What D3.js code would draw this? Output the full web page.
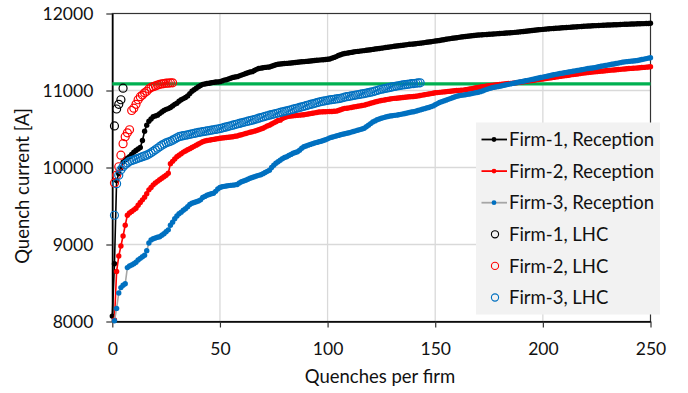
<!DOCTYPE html>
<html>
<head>
<meta charset="utf-8">
<script src="https://cdn.jsdelivr.net/npm/d3@7"></script>
<style>
  body { margin: 0; background: #fff; }
  svg { display: block; font-family: Lato, "Open Sans", sans-serif; }
</style>
</head>
<body>
<div id="chart"></div>
<script>
// quench currents [A], sorted, one value per quench (index = quench number)
var firm1Rec = [8070, 8750, 9830, 9920, 9990, 10070, 10100, 10120, 10140, 10170,
  10200, 10220, 10240, 10260, 10350, 10470, 10550, 10600, 10630, 10660,
  10670, 10680, 10700, 10720, 10740, 10755, 10765, 10780, 10800, 10820,
  10835, 10860, 10880, 10895, 10910, 10930, 10960, 10990, 11010, 11030,
  11050, 11065, 11080, 11085, 11090, 11095, 11100, 11105, 11110, 11112,
  11115, 11125, 11135, 11140, 11150, 11160, 11170, 11175, 11180, 11190,
  11200, 11210, 11220, 11230, 11240, 11245, 11260, 11275, 11285, 11290,
  11295, 11300, 11303, 11305, 11315, 11325, 11335, 11340, 11345, 11348,
  11350, 11352, 11355, 11358, 11360, 11363, 11366, 11370, 11373, 11375,
  11378, 11380, 11383, 11386, 11390, 11393, 11395, 11398, 11400, 11402,
  11405, 11410, 11420, 11430, 11440, 11455, 11465, 11475, 11480, 11485,
  11490, 11495, 11500, 11505, 11508, 11512, 11515, 11518, 11522, 11526,
  11530, 11534, 11538, 11542, 11545, 11550, 11554, 11558, 11562, 11566,
  11570, 11574, 11578, 11582, 11585, 11588, 11592, 11596, 11600, 11602,
  11604, 11608, 11612, 11615, 11618, 11622, 11626, 11630, 11634, 11638,
  11642, 11646, 11650, 11655, 11660, 11665, 11670, 11674, 11678, 11682,
  11686, 11690, 11695, 11699, 11702, 11705, 11708, 11711, 11714, 11717,
  11720, 11722, 11724, 11726, 11728, 11730, 11732, 11734, 11736, 11738,
  11740, 11742, 11744, 11746, 11748, 11750, 11752, 11755, 11758, 11761,
  11764, 11767, 11770, 11773, 11776, 11779, 11782, 11785, 11788, 11791,
  11794, 11797, 11800, 11802, 11804, 11806, 11808, 11810, 11812, 11814,
  11816, 11818, 11820, 11822, 11824, 11826, 11828, 11830, 11832, 11834,
  11836, 11837, 11838, 11840, 11842, 11843, 11845, 11846, 11848, 11849,
  11850, 11851, 11852, 11853, 11854, 11855, 11857, 11859, 11860, 11861,
  11862, 11863, 11864, 11865, 11866, 11867, 11868, 11869, 11870, 11871,
  11873];
var firm1RecStart = 0;

var firm2Rec = [8020, 8650, 8850, 8980, 9110, 9250, 9380, 9410, 9430, 9450,
  9470, 9510, 9545, 9580, 9615, 9660, 9710, 9740, 9775, 9800,
  9820, 9840, 9860, 9880, 9900, 9925, 10050, 10080, 10110, 10140,
  10160, 10180, 10200, 10215, 10230, 10245, 10260, 10275, 10290, 10305,
  10320, 10335, 10345, 10350, 10355, 10360, 10365, 10370, 10375, 10380,
  10383, 10386, 10390, 10393, 10396, 10400, 10405, 10410, 10418, 10426,
  10434, 10442, 10450, 10458, 10465, 10472, 10480, 10490, 10500, 10510,
  10525, 10540, 10550, 10565, 10580, 10595, 10610, 10615, 10635, 10650,
  10660, 10665, 10668, 10671, 10674, 10677, 10680, 10683, 10685, 10690,
  10695, 10700, 10705, 10710, 10715, 10720, 10722, 10724, 10725, 10726,
  10727, 10728, 10730, 10732, 10740, 10750, 10760, 10768, 10770, 10775,
  10780, 10785, 10790, 10795, 10800, 10805, 10810, 10818, 10826, 10834,
  10842, 10850, 10858, 10865, 10870, 10875, 10880, 10885, 10890, 10895,
  10898, 10900, 10903, 10906, 10909, 10912, 10915, 10918, 10920, 10922,
  10925, 10930, 10935, 10940, 10945, 10950, 10955, 10960, 10965, 10970,
  10973, 10976, 10979, 10982, 10985, 10988, 10991, 10994, 10997, 11000,
  11002, 11004, 11005, 11010, 11015, 11020, 11025, 11030, 11035, 11040,
  11045, 11050, 11054, 11058, 11062, 11066, 11070, 11072, 11075, 11078,
  11081, 11084, 11087, 11090, 11093, 11096, 11099, 11102, 11105, 11110,
  11114, 11118, 11122, 11126, 11130, 11134, 11138, 11142, 11146, 11150,
  11154, 11158, 11162, 11166, 11170, 11175, 11179, 11183, 11187, 11191,
  11195, 11199, 11203, 11207, 11211, 11215, 11219, 11223, 11227, 11231,
  11234, 11236, 11239, 11242, 11245, 11248, 11251, 11254, 11257, 11260,
  11262, 11265, 11267, 11270, 11272, 11275, 11278, 11280, 11282, 11285,
  11287, 11289, 11291, 11293, 11295, 11298, 11300, 11303, 11306, 11310];
var firm2RecStart = 1;

var firm3Rec = [8010, 8170, 8370, 8440, 8470, 8490, 8700, 8720, 8735, 8750,
  8770, 8800, 8820, 8840, 8860, 8920, 9020, 9060, 9075, 9085,
  9095, 9100, 9120, 9140, 9165, 9190, 9250, 9290, 9335, 9370,
  9400, 9420, 9445, 9465, 9490, 9520, 9535, 9545, 9555, 9565,
  9580, 9610, 9625, 9640, 9650, 9660, 9665, 9690, 9720, 9740,
  9750, 9755, 9760, 9765, 9768, 9771, 9775, 9780, 9800, 9815,
  9825, 9835, 9848, 9860, 9870, 9880, 9890, 9898, 9905, 9920,
  9935, 9950, 9965, 10000, 10030, 10055, 10075, 10095, 10115, 10130,
  10140, 10155, 10170, 10185, 10195, 10205, 10225, 10250, 10270, 10280,
  10290, 10300, 10310, 10318, 10326, 10334, 10340, 10350, 10360, 10372,
  10385, 10393, 10401, 10409, 10417, 10425, 10432, 10439, 10445, 10452,
  10460, 10468, 10476, 10484, 10492, 10500, 10510, 10530, 10550, 10570,
  10590, 10605, 10620, 10630, 10640, 10648, 10656, 10662, 10668, 10673,
  10677, 10680, 10685, 10690, 10696, 10702, 10708, 10714, 10720, 10725,
  10732, 10740, 10748, 10756, 10764, 10772, 10780, 10790, 10800, 10815,
  10830, 10845, 10855, 10865, 10875, 10885, 10895, 10905, 10915, 10925,
  10932, 10937, 10940, 10945, 10950, 10955, 10960, 10966, 10972, 10978,
  10985, 10995, 11005, 11015, 11025, 11033, 11040, 11045, 11050, 11056,
  11062, 11068, 11074, 11080, 11086, 11092, 11098, 11104, 11110, 11115,
  11120, 11126, 11132, 11138, 11144, 11150, 11156, 11162, 11168, 11174,
  11180, 11186, 11192, 11198, 11204, 11210, 11215, 11220, 11225, 11230,
  11235, 11240, 11245, 11250, 11255, 11260, 11265, 11270, 11275, 11281,
  11285, 11288, 11292, 11297, 11303, 11309, 11315, 11320, 11325, 11330,
  11335, 11340, 11345, 11350, 11356, 11362, 11368, 11372, 11375, 11378,
  11381, 11384, 11387, 11390, 11396, 11402, 11408, 11414, 11420, 11426];
var firm3RecStart = 1;

var firm1Lhc = [10540, 10760, 10820, 10880, 11030];
var firm1LhcStart = 1;

var firm2Lhc = [9800, 9900, 10010, 10160, 10310, 10400, 10450, 10490, 10740, 10770,
  10820, 10880, 10920, 10940, 10970, 10990, 11020, 11040, 11050, 11060,
  11070, 11080, 11085, 11090, 11095, 11095, 11100, 11100];
var firm2LhcStart = 1;

var firm3Lhc = [9380, 9790, 9900, 9970, 10010, 10040, 10060, 10080, 10090, 10100,
  10110, 10120, 10130, 10140, 10150, 10160, 10175, 10190, 10210, 10230,
  10250, 10270, 10290, 10305, 10320, 10330, 10340, 10355, 10370, 10385,
  10400, 10407, 10413, 10419, 10425, 10431, 10437, 10443, 10449, 10455,
  10460, 10465, 10470, 10475, 10480, 10485, 10490, 10495, 10500, 10505,
  10512, 10520, 10527, 10535, 10542, 10550, 10557, 10565, 10572, 10580,
  10587, 10594, 10601, 10608, 10615, 10623, 10631, 10640, 10648, 10656,
  10664, 10672, 10680, 10687, 10694, 10701, 10708, 10715, 10722, 10729,
  10735, 10742, 10750, 10757, 10765, 10772, 10780, 10788, 10795, 10803,
  10811, 10819, 10826, 10834, 10842, 10850, 10856, 10862, 10867, 10872,
  10877, 10882, 10886, 10890, 10894, 10898, 10906, 10914, 10920, 10925,
  10930, 10935, 10940, 10945, 10950, 10955, 10960, 10966, 10972, 10978,
  10984, 10992, 11000, 11010, 11016, 11022, 11028, 11034, 11040, 11046,
  11052, 11057, 11062, 11067, 11072, 11076, 11080, 11084, 11088, 11090,
  11094, 11098, 11100];
var firm3LhcStart = 1;

var limitCurrent = 11085;   // green line
var xTicks = [0, 50, 100, 150, 200, 250];
var yTicks = [8000, 9000, 10000, 11000, 12000];
var legendLabels = ["Firm-1, Reception", "Firm-2, Reception", "Firm-3, Reception",
  "Firm-1, LHC", "Firm-2, LHC", "Firm-3, LHC"];

var W = 688, H = 393;
var plotL = 112.3, plotR = 650.5, plotT = 13.5, plotB = 321.5;

var svg = d3.select("#chart").append("svg")
  .attr("width", W).attr("height", H);

var x = d3.scaleLinear().domain([0, 250]).range([plotL, plotR]);
var y = d3.scaleLinear().domain([8000, 12000]).range([plotB, plotT]);

// gridlines
svg.append("g").selectAll("line")
  .data(xTicks.slice(1, -1)).enter().append("line")
  .attr("x1", function (d) { return x(d); }).attr("x2", function (d) { return x(d); })
  .attr("y1", plotT).attr("y2", plotB)
  .attr("stroke", "#d9d9d9").attr("stroke-width", 1.3);
svg.append("g").selectAll("line")
  .data(yTicks.slice(1, -1)).enter().append("line")
  .attr("x1", plotL).attr("x2", plotR)
  .attr("y1", function (d) { return y(d); }).attr("y2", function (d) { return y(d); })
  .attr("stroke", "#d9d9d9").attr("stroke-width", 1.3);

// plot frame top/right
svg.append("rect")
  .attr("x", plotL).attr("y", plotT)
  .attr("width", plotR - plotL).attr("height", plotB - plotT)
  .attr("fill", "none").attr("stroke", "#333").attr("stroke-width", 1.2);

// axes
var xAxis = svg.append("g")
  .attr("transform", "translate(0," + plotB + ")")
  .call(d3.axisBottom(x).tickValues(xTicks).tickSize(6).tickPadding(15).tickSizeOuter(0));
var yAxis = svg.append("g")
  .attr("transform", "translate(" + plotL + ",0)")
  .call(d3.axisLeft(y).tickValues(yTicks).tickSize(6).tickPadding(13).tickSizeOuter(0)
    .tickFormat(d3.format("d")));
[xAxis, yAxis].forEach(function (a) {
  a.select(".domain").attr("stroke", "#000").attr("stroke-width", 1.6);
  a.selectAll(".tick line").attr("stroke", "#333").attr("stroke-width", 1.2);
  a.selectAll("text").attr("font-size", "17.5px").attr("fill", "#111")
    .attr("font-family", "Lato, sans-serif");
});

// axis titles
svg.append("text")
  .attr("x", 380).attr("y", 383)
  .attr("text-anchor", "middle").attr("font-size", "18.5px").attr("fill", "#111")
  .text("Quenches per firm");
svg.append("text")
  .attr("transform", "translate(29,186) rotate(-90)")
  .attr("text-anchor", "middle").attr("font-size", "18.5px").attr("fill", "#111")
  .text("Quench current [A]");

// limit line
svg.append("line")
  .attr("x1", x(0)).attr("x2", x(250))
  .attr("y1", y(limitCurrent)).attr("y2", y(limitCurrent))
  .attr("stroke", "#00b050").attr("stroke-width", 3.2);

function pts(vals, start) {
  return vals.map(function (v, i) { return [start + i, v]; });
}

var line = d3.line()
  .x(function (d) { return x(d[0]); })
  .y(function (d) { return y(d[1]); });

var recSeries = [
  { data: pts(firm1Rec, firm1RecStart), line: "#000000", mark: "#000000" },
  { data: pts(firm2Rec, firm2RecStart), line: "#ff0000", mark: "#ff0000" },
  { data: pts(firm3Rec, firm3RecStart), line: "#a6a6a6", mark: "#0070c0" }
];
recSeries.forEach(function (s) {
  svg.append("path").datum(s.data)
    .attr("d", line).attr("fill", "none")
    .attr("stroke", s.line).attr("stroke-width", 1.6);
  svg.append("g").selectAll("circle")
    .data(s.data).enter().append("circle")
    .attr("cx", function (d) { return x(d[0]); })
    .attr("cy", function (d) { return y(d[1]); })
    .attr("r", 2.7).attr("fill", s.mark);
});

var lhcSeries = [
  { data: pts(firm1Lhc, firm1LhcStart), color: "#000000" },
  { data: pts(firm2Lhc, firm2LhcStart), color: "#ff0000" },
  { data: pts(firm3Lhc, firm3LhcStart), color: "#0070c0" }
];
lhcSeries.forEach(function (s) {
  svg.append("g").selectAll("circle")
    .data(s.data).enter().append("circle")
    .attr("cx", function (d) { return x(d[0]); })
    .attr("cy", function (d) { return y(d[1]); })
    .attr("r", 4).attr("fill", "none")
    .attr("stroke", s.color).attr("stroke-width", 1.2);
});

// legend
var lg = svg.append("g");
lg.append("rect")
  .attr("x", 476).attr("y", 122.5).attr("width", 184).attr("height", 192)
  .attr("fill", "#f2f2f2");
var rowY = d3.range(6).map(function (i) { return 139.5 + i * 31.6; });
var legendStyle = [
  { line: "#000000", mark: "#000000" },
  { line: "#ff0000", mark: "#ff0000" },
  { line: "#a6a6a6", mark: "#0070c0" },
  { open: "#000000" }, { open: "#ff0000" }, { open: "#0070c0" }
];
legendStyle.forEach(function (st, i) {
  var cy = rowY[i];
  if (st.open) {
    lg.append("circle").attr("cx", 495).attr("cy", cy).attr("r", 3.6)
      .attr("fill", "none").attr("stroke", st.open).attr("stroke-width", 1.1);
  } else {
    lg.append("line").attr("x1", 481.5).attr("x2", 507).attr("y1", cy).attr("y2", cy)
      .attr("stroke", st.line).attr("stroke-width", 1.8);
    lg.append("circle").attr("cx", 494).attr("cy", cy).attr("r", 2.4).attr("fill", st.mark);
  }
  lg.append("text").attr("x", 509).attr("y", cy).attr("dy", "0.36em")
    .attr("font-size", "18.5px").attr("fill", "#111")
    .text(legendLabels[i]);
});
</script>
</body>
</html>
